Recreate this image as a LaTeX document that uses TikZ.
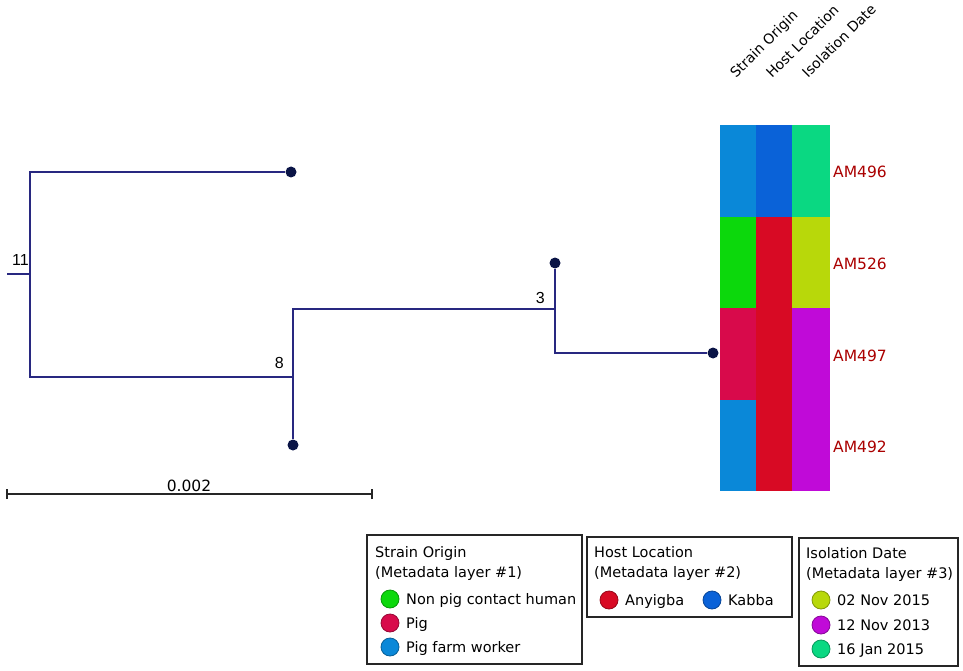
\documentclass[tikz,border=0pt]{standalone}
\usepackage{fontspec}
\setmainfont{DejaVu Sans}
\newfontfamily\arialf{Liberation Sans}
\definecolor{pfw}{RGB}{10,136,216}
\definecolor{nonpig}{RGB}{12,216,12}
\definecolor{pig}{RGB}{216,10,75}
\definecolor{anyigba}{RGB}{216,10,36}
\definecolor{kabba}{RGB}{10,98,216}
\definecolor{novfifteen}{RGB}{184,216,10}
\definecolor{novthirteen}{RGB}{192,10,216}
\definecolor{janfifteen}{RGB}{10,216,130}
\definecolor{edgec}{RGB}{40,40,128}
\definecolor{dotc}{RGB}{10,20,70}
\definecolor{tipc}{RGB}{170,0,0}
\tikzset{
  edge/.style={draw=edgec, line width=1.4pt},
  leafdot/.style={circle, fill=dotc, inner sep=0pt, minimum size=11pt},
  bootlab/.style={font=\arialf\fontsize{16}{18}\selectfont, inner sep=0pt, anchor=base east},
  tiplab/.style={font=\fontsize{15.5}{18}\selectfont, text=tipc, inner sep=0pt, anchor=base west},
  headlab/.style={font=\fontsize{14}{16}\selectfont, inner sep=0pt, anchor=base west, rotate=45},
  legtext/.style={font=\fontsize{14.5}{17}\selectfont, inner sep=0pt, anchor=base west},
  legbox/.style={draw=black!85, line width=1.2pt},
  legdot/.style={circle, inner sep=0pt, minimum size=18pt, line width=0.8pt},
}
\begin{document}
\begin{tikzpicture}[x=1pt,y=-1pt]
\useasboundingbox (0,0) rectangle (963,671);
% ---------- tree ----------
\coordinate (root) at (7,274);
\coordinate (n11) at (30,274);
\coordinate (n8) at (293,377);
\coordinate (n3) at (555,309);
\node[leafdot] (L1) at (291,172) {};
\node[leafdot] (L2) at (555,263) {};
\node[leafdot] (L3) at (713,353) {};
\node[leafdot] (L4) at (293,445) {};
\draw[edge] (root) -- (n11);
\draw[edge] (n11) |- (L1);
\draw[edge] (n11) |- (n8);
\draw[edge] (n8) -- (L4);
\draw[edge] (n8) |- (n3);
\draw[edge] (n3) -- (L2);
\draw[edge] (n3) |- (L3);
\node[bootlab] (b11) at (29,265) {11};
\node[bootlab] (b8) at (284,368) {8};
\node[bootlab] (b3) at (545,303) {3};
% ---------- scale bar ----------
\coordinate (sa) at (7,494);
\coordinate (sb) at (372,494);
\draw[line width=1.4pt, black!85] (sa) -- (sb);
\draw[line width=1.2pt, black!85] ([yshift=-5pt]sa) -- ([yshift=5pt]sa);
\draw[line width=1.2pt, black!85] ([yshift=-5pt]sb) -- ([yshift=5pt]sb);
\node[font=\fontsize{15.5}{18}\selectfont, inner sep=0pt, anchor=base] (sl) at (189,491) {0.002};
% ---------- heatmap ----------
\fill[pfw] (720,125) rectangle (756,216.5);
\fill[kabba] (756,125) rectangle (792,216.5);
\fill[janfifteen] (792,125) rectangle (830,216.5);
\fill[nonpig] (720,216.5) rectangle (756,308);
\fill[anyigba] (756,216.5) rectangle (792,308);
\fill[novfifteen] (792,216.5) rectangle (830,308);
\fill[pig] (720,308) rectangle (756,399.5);
\fill[anyigba] (756,308) rectangle (792,399.5);
\fill[novthirteen] (792,308) rectangle (830,399.5);
\fill[pfw] (720,399.5) rectangle (756,491);
\fill[anyigba] (756,399.5) rectangle (792,491);
\fill[novthirteen] (792,399.5) rectangle (830,491);
\node[headlab] (h1) at (736,79) {Strain Origin};
\node[headlab] (h2) at (772,79) {Host Location};
\node[headlab] (h3) at (808,79) {Isolation Date};
\node[tiplab] (t1) at (833,178) {AM496};
\node[tiplab] (t2) at (833,269.5) {AM526};
\node[tiplab] (t3) at (833,361) {AM497};
\node[tiplab] (t4) at (833,452.5) {AM492};
% ---------- legend 1 ----------
\draw[legbox] (367,535) rectangle (582,664);
\node[legtext] (g1a) at (375,557) {Strain Origin};
\node[legtext] (g1b) at (375,577) {(Metadata layer \#1)};
\node[legdot, fill=nonpig, draw=nonpig!70!black] (d11) at (390,599) {};
\node[legtext] (e11) at (406,604) {Non pig contact human};
\node[legdot, fill=pig, draw=pig!70!black] (d12) at (390,623) {};
\node[legtext] (e12) at (406,628) {Pig};
\node[legdot, fill=pfw, draw=pfw!70!black] (d13) at (390,647) {};
\node[legtext] (e13) at (406,652) {Pig farm worker};
% ---------- legend 2 ----------
\draw[legbox] (587,537) rectangle (792,617);
\node[legtext] (g2a) at (594,557) {Host Location};
\node[legtext] (g2b) at (594,577) {(Metadata layer \#2)};
\node[legdot, fill=anyigba, draw=anyigba!70!black] (d21) at (609,600) {};
\node[legtext] (e21) at (625,605) {Anyigba};
\node[legdot, fill=kabba, draw=kabba!70!black] (d22) at (712,600) {};
\node[legtext] (e22) at (728,605) {Kabba};
% ---------- legend 3 ----------
\draw[legbox] (799,538) rectangle (958,666);
\node[legtext] (g3a) at (806,558) {Isolation Date};
\node[legtext] (g3b) at (806,578) {(Metadata layer \#3)};
\node[legdot, fill=novfifteen, draw=novfifteen!70!black] (d31) at (821,600) {};
\node[legtext] (e31) at (837,605) {02 Nov 2015};
\node[legdot, fill=novthirteen, draw=novthirteen!70!black] (d32) at (821,625) {};
\node[legtext] (e32) at (837,630) {12 Nov 2013};
\node[legdot, fill=janfifteen, draw=janfifteen!70!black] (d33) at (821,649) {};
\node[legtext] (e33) at (837,654) {16 Jan 2015};
\end{tikzpicture}
\end{document}
